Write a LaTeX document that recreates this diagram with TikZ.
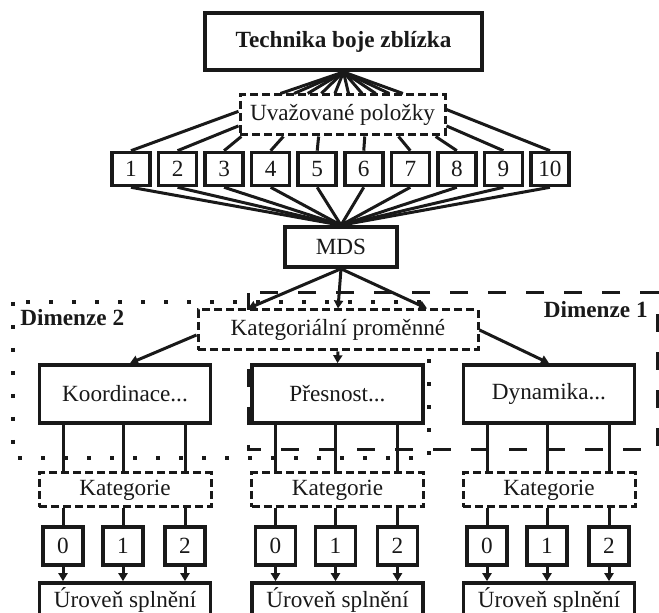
\documentclass[tikz,border=0pt]{standalone}
\usepackage{fontspec}
\setmainfont{Liberation Serif}
\usetikzlibrary{arrows.meta}
\definecolor{ink}{RGB}{25,25,25}
\tikzset{
  box/.style={draw=ink, line width=1.8pt, fill=white, text=ink, inner sep=1pt},
  dashbox/.style={box, line width=1.5pt, dash pattern=on 4pt off 2pt},
  link/.style={draw=ink, line width=1.5pt},
  arr/.style={link, -{Triangle[length=4pt,width=4.5pt]}},
  dotFrame/.style={draw=ink, line width=1.8pt, dash pattern=on 1.8pt off 9.7pt},
  dashFrame/.style={draw=ink, line width=1.5pt, dash pattern=on 9pt off 10pt},
  dimlabel/.style={font=\fontsize{11.6}{14}\selectfont\bfseries, text=ink, inner sep=0pt}
}

\begin{document}
\begin{tikzpicture}[x=0.5pt, y=-0.5pt, font=\fontsize{11.6}{14}\selectfont]
\useasboundingbox (0,0) rectangle (659,613);
\clip (0,0) rectangle (659,613);

% Dimension frames
\draw[dotFrame] (13,302) rectangle (429,458);
\draw[dashFrame] (248,293) rectangle (657,450);
\node[dimlabel, anchor=west] (dimTwo) at (20,317.5) {Dimenze 2};
\node[dimlabel, anchor=east] (dimOne) at (648,310) {Dimenze 1};

% Top part
\node[box, line width=2pt, font=\fontsize{11.6}{14}\selectfont\bfseries,
      minimum width=138.5pt, minimum height=28.5pt] (top) at (343.5,41.5) {Technika boje zblízka};
\node[dashbox, minimum width=102.5pt, minimum height=20pt] (uvaz) at (342.5,115) {Uvažované položky};

\foreach \i in {1,...,10}
  \node[box, minimum width=19pt, minimum height=16.5pt] (n\i) at ({131+(\i-1)*46.55},169) {\i};

\node[box, minimum width=56pt, minimum height=20pt] (mds) at (341,247) {MDS};
\node[dashbox, minimum width=140pt, minimum height=20pt] (kat) at (338,330) {Kategoriální proměnné};

% Categorical variables
\node[box, minimum width=85.5pt, minimum height=29pt] (koord) at (125,394) {Koordinace...};
\node[box, minimum width=85.5pt, minimum height=29pt] (pres) at (337.5,394) {Přesnost...};
\node[box, minimum width=85.5pt, minimum height=29pt] (dyn) at (549,394) {Dynamika...};

\foreach \g/\x in {koord/125, pres/337.5, dyn/549} {
  \node[dashbox, minimum width=86pt, minimum height=17pt] (kateg\g) at (\x,490) {Kategorie};
  \foreach \k/\dx in {0/-62, 1/-2, 2/60}
    \node[box, minimum width=20pt, minimum height=19pt] (c\g\k) at (\x+\dx,546) {\k};
  \node[box, minimum width=85.5pt, minimum height=17pt] (ur\g) at (\x,600) {Úroveň splnění};
}

% Connectors
\foreach \d in {-31,-24.2,-17.4,-10.6,-3.8,3,9.8,16.6,23.4,30.2}
  \draw[link] (top.south) -- ([xshift=\d pt]uvaz.north);
\foreach \i/\a in {1/178,2/186,3/192,4/200,5/222,6/316,7/339,8/347,9/354,10/3}
  \draw[link] (uvaz.\a) -- (n\i.north);
\foreach \i in {1,...,10}
  \draw[link] (n\i.south) -- (mds.north);

\draw[arr] (mds.south) -- ([xshift=-45pt]kat.north);
\draw[arr] (mds.south) -- (kat.north);
\draw[arr] (mds.south) -- ([xshift=44.5pt]kat.north);

\draw[arr] ([yshift=-2.5pt]kat.west) -- ([xshift=2.5pt]koord.north);
\draw[arr] (kat.south) -- (pres.north);
\draw[arr] (kat.east) -- (dyn.north);

\foreach \g in {koord,pres,dyn}
  \foreach \k in {0,1,2} {
    \draw[link] (\g.south -| c\g\k) -- (kateg\g.north -| c\g\k);
    \draw[link] (kateg\g.south -| c\g\k) -- (c\g\k.north);
    \draw[arr] (c\g\k.south) -- (ur\g.north -| c\g\k);
  }

\end{tikzpicture}
\end{document}
